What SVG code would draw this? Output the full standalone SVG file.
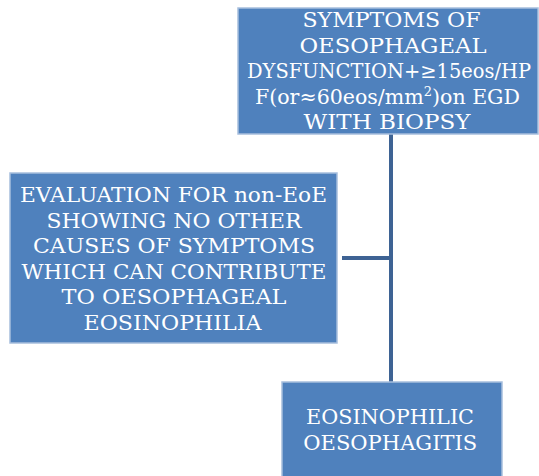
<svg xmlns="http://www.w3.org/2000/svg" width="539" height="476" viewBox="0 0 539 476">
<style>
.box{fill:#4F81BD;stroke:#A7BEDD;stroke-width:1.5}
.t{fill:#FFFFFF;font-family:"DejaVu Serif",serif;font-size:20.5px;text-anchor:middle}
.c{stroke:#3E6394;stroke-width:4;fill:none}
</style>
<rect width="539" height="476" fill="#FFFFFF"/>
<g id="connectors">
<line class="c" x1="391" y1="134" x2="391" y2="382"/>
<line class="c" x1="342" y1="258" x2="391" y2="258"/>
</g>
<g id="node-symptoms">
<rect class="box" x="238" y="8" width="300" height="126"/>
<text class="t" x="391.5" y="27" textLength="178" lengthAdjust="spacingAndGlyphs">SYMPTOMS OF</text>
<text class="t" x="393" y="52.5" textLength="187" lengthAdjust="spacingAndGlyphs">OESOPHAGEAL</text>
<text class="t" x="389" y="78" textLength="284" lengthAdjust="spacingAndGlyphs">DYSFUNCTION+≥15eos/HP</text>
<text class="t" x="387.5" y="103.5" textLength="265" lengthAdjust="spacingAndGlyphs">F(or≈60eos/mm<tspan font-size="13" dy="-8">2</tspan><tspan dy="8">)on EGD</tspan></text>
<text class="t" x="387" y="129" textLength="167" lengthAdjust="spacingAndGlyphs">WITH BIOPSY</text>
</g>
<g id="node-evaluation">
<rect class="box" x="10" y="173" width="327" height="170"/>
<text class="t" x="173.5" y="202" textLength="307" lengthAdjust="spacingAndGlyphs">EVALUATION FOR non-EoE</text>
<text class="t" x="174" y="227.5" textLength="255" lengthAdjust="spacingAndGlyphs">SHOWING NO OTHER</text>
<text class="t" x="174" y="253" textLength="282" lengthAdjust="spacingAndGlyphs">CAUSES OF SYMPTOMS</text>
<text class="t" x="174" y="278.5" textLength="305" lengthAdjust="spacingAndGlyphs">WHICH CAN CONTRIBUTE</text>
<text class="t" x="174" y="304" textLength="225" lengthAdjust="spacingAndGlyphs">TO OESOPHAGEAL</text>
<text class="t" x="172.5" y="329.5" textLength="178" lengthAdjust="spacingAndGlyphs">EOSINOPHILIA</text>
</g>
<g id="node-eoe">
<rect class="box" x="282" y="382" width="220" height="100"/>
<text class="t" x="390" y="424" textLength="168" lengthAdjust="spacingAndGlyphs">EOSINOPHILIC</text>
<text class="t" x="390.3" y="450" textLength="174" lengthAdjust="spacingAndGlyphs">OESOPHAGITIS</text>
</g>
</svg>
